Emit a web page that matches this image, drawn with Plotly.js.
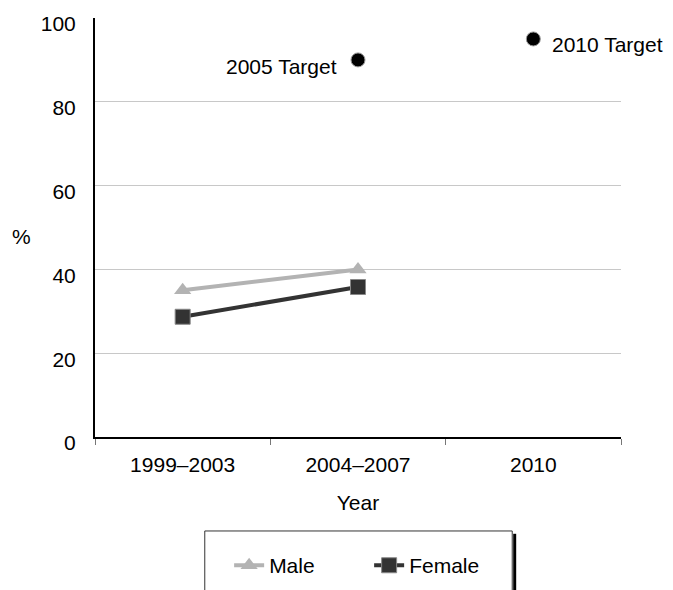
<!DOCTYPE html>
<html><head><meta charset="utf-8">
<script src="https://cdn.plot.ly/plotly-3.0.1.min.js"></script>
<style>html,body{margin:0;padding:0;background:#fff}#chart{width:673px;height:590px}</style>
</head><body><div id="chart"></div>
<script>
const categories = ["1999–2003", "2004–2007", "2010"];
const maleYears = ["1999–2003", "2004–2007"];
const maleValues = [35.0, 40.0];
const femaleYears = ["1999–2003", "2004–2007"];
const femaleValues = [28.7, 35.8];
const targetYears = ["2004–2007", "2010"];
const targetValues = [90, 95];
const targetLabels = ["2005 Target", "2010 Target"];
const yTicks = [0, 20, 40, 60, 80, 100];

const FONT = "Liberation Sans, Arial, sans-serif";
const FS = 21;

const traces = [
  {x: maleYears, y: maleValues, name: "Male", type: "scatter", mode: "lines+markers",
   line: {color: "#b3b3b3", width: 4}, marker: {symbol: "triangle-up", size: 15, color: "#b3b3b3"}},
  {x: femaleYears, y: femaleValues, name: "Female", type: "scatter", mode: "lines+markers",
   line: {color: "#333333", width: 4}, marker: {symbol: "square", size: 15, color: "#333333", line: {color: "#888", width: 1}}},
  {x: targetYears, y: targetValues, name: "Target", type: "scatter", mode: "markers", showlegend: false,
   marker: {symbol: "circle", size: 14, color: "#000", line: {color: "#999", width: 1}}}
];

const annotations = [
  {x: categories.indexOf(targetYears[0]), y: targetValues[0], xref: "x", yref: "y", text: targetLabels[0], showarrow: false,
   xanchor: "right", yanchor: "middle", xshift: -19, yshift: -7, font: {family: FONT, size: FS, color: "#000"}},
  {x: categories.indexOf(targetYears[1]), y: targetValues[1], xref: "x", yref: "y", text: targetLabels[1], showarrow: false,
   xanchor: "left", yanchor: "middle", xshift: 17, yshift: -6, font: {family: FONT, size: FS, color: "#000"}},
  {x: -0.14, y: 0.478, xref: "paper", yref: "paper", text: "%", showarrow: false,
   xanchor: "center", yanchor: "middle", font: {family: FONT, size: FS, color: "#000"}}
];

const shapes = [
  {type: "rect", xref: "paper", yref: "paper", x0: 0.2087, x1: 0.7932, y0: -0.2243, y1: -0.45,
   line: {color: "#333", width: 1}, fillcolor: "rgba(0,0,0,0)"},
  {type: "line", xref: "paper", yref: "paper", x0: 0.7979, x1: 0.7979, y0: -0.231, y1: -0.45,
   line: {color: "#000", width: 3}}
];

const layout = {
  width: 673, height: 590,
  margin: {l: 95, r: 52, t: 18, b: 153, autoexpand: false},
  paper_bgcolor: "#fff", plot_bgcolor: "#fff",
  font: {family: FONT, size: FS, color: "#000"},
  showlegend: true,
  legend: {orientation: "h", x: 0.255, xanchor: "left", y: -0.258, yanchor: "top",
           font: {family: FONT, size: FS, color: "#000"}, bgcolor: "rgba(0,0,0,0)", borderwidth: 0,
           entrywidth: 95, entrywidthmode: "pixels", traceorder: "normal"},
  xaxis: {type: "category", categoryorder: "array", categoryarray: categories,
          tickvals: categories, range: [-0.5, 2.5], tickson: "boundaries", automargin: false,
          ticks: "outside", ticklen: 6, tickcolor: "#777", tickwidth: 1, ticklabelstandoff: 8,
          showline: true, linecolor: "#000", linewidth: 2, showgrid: false, zeroline: false,
          tickfont: {family: FONT, size: FS}, title: {text: "Year", font: {family: FONT, size: FS}, standoff: 20}},
  yaxis: {range: [0, 100], tickvals: yTicks, ticktext: yTicks.map(String), automargin: false,
          showline: true, linecolor: "#000", linewidth: 2, showgrid: true, gridcolor: "#c8c8c8", gridwidth: 1,
          zeroline: false, ticks: "", ticklabelstandoff: 13, ticklabelshift: 6, tickfont: {family: FONT, size: FS}},
  annotations: annotations,
  shapes: shapes
};

Plotly.newPlot("chart", traces, layout, {displayModeBar: false, staticPlot: true});
</script></body></html>
